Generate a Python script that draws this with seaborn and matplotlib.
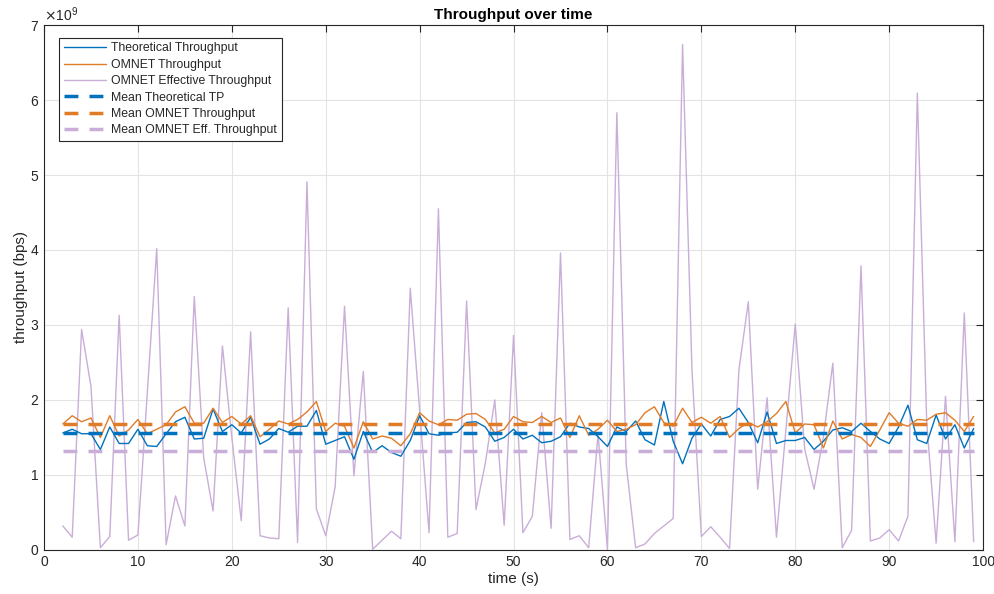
import numpy as np
import pandas as pd
import matplotlib
matplotlib.use("Agg")
import matplotlib.pyplot as plt
import seaborn as sns
from matplotlib.ticker import ScalarFormatter

time_s = list(range(2, 100))

theoretical_tp = [1.56, 1.61, 1.55, 1.55, 1.34, 1.64, 1.42, 1.42, 1.61, 1.39, 1.38, 1.55, 1.71, 1.77, 1.48, 1.49,
                  1.88, 1.58, 1.67, 1.56, 1.77, 1.41, 1.48, 1.62, 1.57, 1.65, 1.65, 1.86, 1.41, 1.46, 1.51, 1.21,
                  1.58, 1.30, 1.39, 1.30, 1.25, 1.46, 1.79, 1.55, 1.53, 1.56, 1.57, 1.70, 1.71, 1.64, 1.45, 1.50,
                  1.61, 1.48, 1.53, 1.43, 1.45, 1.51, 1.69, 1.64, 1.62, 1.51, 1.38, 1.64, 1.58, 1.72, 1.47, 1.40,
                  1.98, 1.45, 1.15, 1.49, 1.68, 1.52, 1.74, 1.78, 1.89, 1.70, 1.43, 1.84, 1.42, 1.46, 1.46, 1.50,
                  1.34, 1.45, 1.60, 1.63, 1.58, 1.69, 1.58, 1.48, 1.42, 1.64, 1.93, 1.47, 1.42, 1.80, 1.48, 1.67,
                  1.36, 1.62]

omnet_tp = [1.68, 1.79, 1.71, 1.76, 1.50, 1.79, 1.52, 1.60, 1.74, 1.55, 1.61, 1.67, 1.84, 1.91, 1.69, 1.69,
            1.89, 1.70, 1.78, 1.68, 1.79, 1.51, 1.61, 1.72, 1.68, 1.74, 1.84, 1.98, 1.58, 1.69, 1.65, 1.36,
            1.71, 1.48, 1.52, 1.49, 1.39, 1.55, 1.83, 1.72, 1.67, 1.74, 1.73, 1.81, 1.82, 1.74, 1.56, 1.61,
            1.78, 1.71, 1.70, 1.78, 1.70, 1.76, 1.50, 1.79, 1.53, 1.61, 1.73, 1.58, 1.61, 1.67, 1.83, 1.91,
            1.70, 1.65, 1.89, 1.70, 1.77, 1.69, 1.78, 1.50, 1.62, 1.70, 1.64, 1.71, 1.82, 1.98, 1.56, 1.68,
            1.67, 1.36, 1.72, 1.48, 1.54, 1.50, 1.38, 1.60, 1.83, 1.69, 1.65, 1.74, 1.73, 1.81, 1.83, 1.73,
            1.58, 1.78]

omnet_eff_tp = [0.32, 0.17, 2.94, 2.18, 0.03, 0.18, 3.13, 0.13, 0.20, 2.10, 4.02, 0.07, 0.72, 0.32, 3.38, 1.23,
                0.52, 2.72, 1.50, 0.39, 2.91, 0.19, 0.16, 0.15, 3.23, 0.10, 4.91, 0.55, 0.19, 0.84, 3.25, 0.99,
                2.38, 0.01, 0.13, 0.25, 0.15, 3.49, 1.86, 0.23, 4.55, 0.17, 0.22, 3.32, 0.54, 1.16, 2.00, 0.33,
                2.86, 0.23, 0.45, 1.83, 0.29, 3.96, 0.14, 0.19, 0.03, 1.55, 0.00, 5.83, 1.14, 0.03, 0.08, 0.22,
                0.32, 0.42, 6.74, 2.40, 0.18, 0.31, 0.17, 0.02, 2.40, 3.31, 0.81, 2.03, 0.17, 1.60, 3.01, 1.35,
                0.81, 1.51, 2.49, 0.03, 0.26, 3.79, 0.12, 0.16, 0.27, 0.12, 0.45, 6.09, 1.70, 0.09, 2.05, 0.11,
                3.16, 0.11]

series_names = ["Theoretical Throughput", "OMNET Throughput", "OMNET Effective Throughput"]
mean_names = ["Mean Theoretical TP", "Mean OMNET Throughput", "Mean OMNET Eff. Throughput"]
mean_values = [1.565, 1.685, 1.325]

scale = 1e9
colors = ["#0072BD", "#E07B28", "#C9AED8"]

sns.set_style("white")
plt.rcParams["font.family"] = ["Liberation Sans", "DejaVu Sans"]

fig = plt.figure(figsize=(9.94, 5.94), dpi=100)
ax = fig.add_axes([0.0443, 0.0741, 0.9447, 0.8838])

df = pd.DataFrame({
    "time": time_s * 3,
    "tp": np.array(theoretical_tp + omnet_tp + omnet_eff_tp) * scale,
    "series": [series_names[0]] * len(time_s) + [series_names[1]] * len(time_s) + [series_names[2]] * len(time_s),
})

for name, col in zip(series_names, colors):
    sub = df[df["series"] == name]
    sns.lineplot(data=sub, x="time", y="tp", ax=ax, color=col, linewidth=1.0, label=name,
                 zorder=3 if name != series_names[2] else 2)

for name, mv, col in zip(mean_names, mean_values, colors):
    mdf = pd.DataFrame({"time": [time_s[0], time_s[-1]], "tp": [mv * scale, mv * scale]})
    sns.lineplot(data=mdf, x="time", y="tp", ax=ax, color=col, linewidth=2.5, label=name,
                 linestyle=(0, (4, 3.2)), zorder=4)

ax.set_xlim(0, 100)
ax.set_ylim(0, 7e9)
ax.set_xticks(np.arange(0, 101, 10))
ax.set_yticks(np.arange(0, 7.01e9, 1e9))
fmt = ScalarFormatter(useMathText=True)
fmt.set_powerlimits((0, 0))
ax.yaxis.set_major_formatter(fmt)
ax.yaxis.get_offset_text().set_fontsize(10)
ax.yaxis.get_offset_text().set_color("#262626")

ax.grid(True, color="#e3e3e3", linewidth=0.8)
ax.set_axisbelow(True)
for sp in ax.spines.values():
    sp.set_color("#262626")
    sp.set_linewidth(0.8)
ax.tick_params(direction="in", top=True, right=True, length=5, width=0.8,
               colors="#262626", labelsize=10, labelcolor="#262626")

ax.set_xlabel("time (s)", fontsize=11, color="#262626", labelpad=2)
ax.set_ylabel("throughput (bps)", fontsize=11, color="#262626", labelpad=1)
ax.set_title("Throughput over time", fontsize=11, fontweight="bold", color="#000000", pad=4)

leg = ax.legend(loc="upper left", bbox_to_anchor=(0.0125, 0.983), fontsize=8.8, frameon=True, fancybox=False,
                handlelength=3.4, handletextpad=0.45, borderpad=0.4, labelspacing=0.36, borderaxespad=0.3)
leg.get_frame().set_edgecolor("#262626")
leg.get_frame().set_linewidth(0.8)
leg.get_frame().set_alpha(1.0)

fig.savefig("out.png", dpi=100)
